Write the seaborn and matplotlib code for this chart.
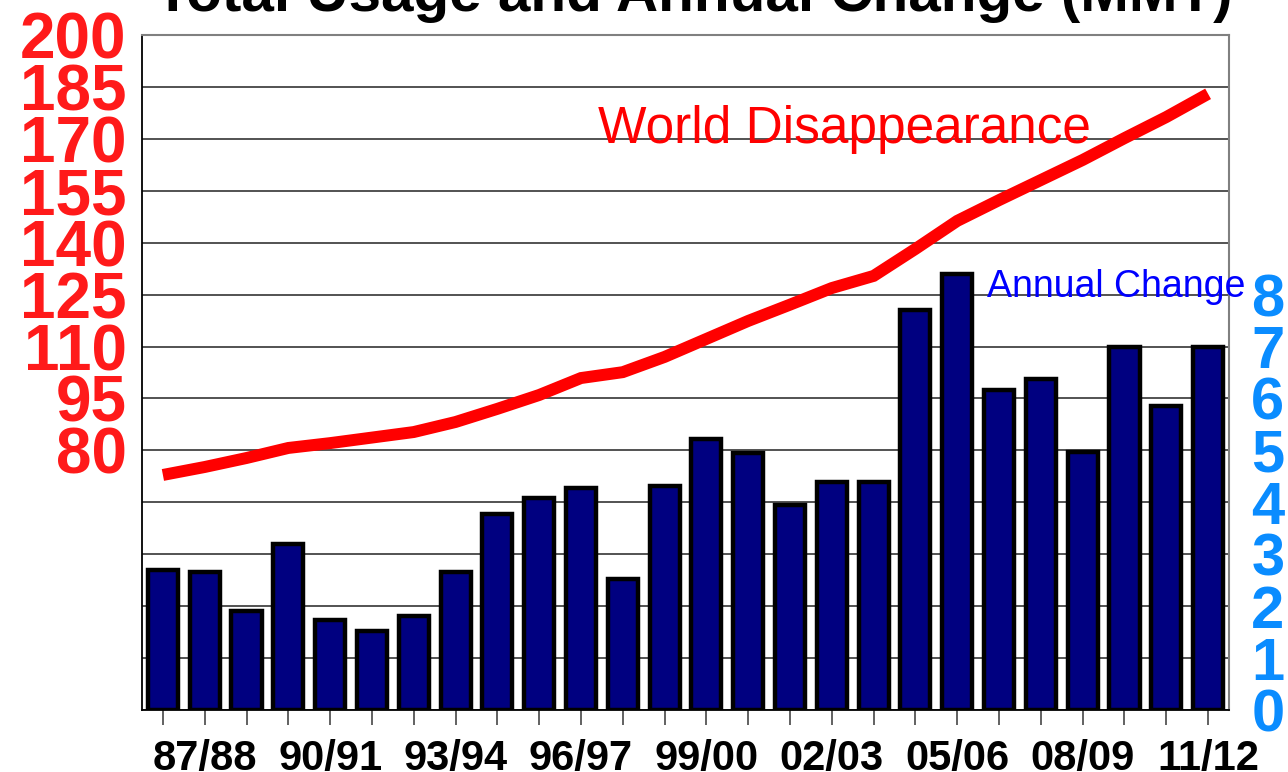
import numpy as np
import matplotlib
matplotlib.use("Agg")
import matplotlib.pyplot as plt
import seaborn as sns

# Marketing years
seasons = ["86/87", "87/88", "88/89", "89/90", "90/91", "91/92", "92/93",
           "93/94", "94/95", "95/96", "96/97", "97/98", "98/99", "99/00",
           "00/01", "01/02", "02/03", "03/04", "04/05", "05/06", "06/07",
           "07/08", "08/09", "09/10", "10/11", "11/12"]

# World disappearance (MMT, left axis)
disappearance = [72.9, 75.2, 77.8, 80.7, 82.1, 83.7, 85.3, 88.2, 92.0, 96.0,
                 100.9, 102.6, 107.0, 112.2, 117.4, 122.1, 126.9, 130.4,
                 138.2, 146.3, 152.3, 158.1, 163.9, 170.2, 176.3, 183.0]

# Annual change (MMT, right axis)
annual_change = [2.69, 2.66, 1.91, 3.20, 1.74, 1.52, 1.82, 2.66, 3.78, 4.09,
                 4.28, 2.52, 4.32, 5.21, 4.94, 3.95, 4.40, 4.40, 7.70, 8.40,
                 6.17, 6.37, 4.96, 7.00, 5.86, 7.00]

left_ticks = list(range(5, 201, 15))
left_labels = [str(v) if v >= 80 else "" for v in left_ticks]
right_ticks = list(range(0, 14))
right_labels = [str(v) if v <= 8 else "" for v in right_ticks]

sns.set_theme(style="white")
plt.rcParams["font.family"] = ["Liberation Sans", "DejaVu Sans"]

W, H = 1288, 772
fig = plt.figure(figsize=(W / 100, H / 100), dpi=100)
ax = fig.add_axes([142 / W, (H - 710) / H, 1087 / W, 675 / H])

# Bars: annual change, with the grid behind them
sns.barplot(x=seasons, y=annual_change, ax=ax, color="#000080", saturation=1,
            width=0.72, edgecolor="black", linewidth=3.2, zorder=2)
for bar in ax.patches:
    bar.set_linewidth(3.2)
    bar.set_edgecolor("black")
ax.set_axisbelow(True)
ax.set_ylim(0, 13)
ax.set_xlim(-0.5, len(seasons) - 0.5)
ax.yaxis.grid(True, color="#444444", linewidth=1.3)
ax.xaxis.grid(False)

ax.set_xticks(range(len(seasons)))
ax.set_xticklabels([s if i % 3 == 1 else "" for i, s in enumerate(seasons)],
                   fontsize=30, fontweight="bold", color="black")
ax.tick_params(axis="x", bottom=True, length=11, width=1.3, color="#555555",
               direction="out", pad=10)
ax.set_xlabel("")
ax.set_ylabel("")

for side in ["left", "bottom"]:
    ax.spines[side].set_color("black")
    ax.spines[side].set_linewidth(1.3)
for side in ["top", "right"]:
    ax.spines[side].set_color("#808080")
    ax.spines[side].set_linewidth(1.5)

# Line: world disappearance on the left scale
ax2 = ax.twinx()
sns.lineplot(x=np.arange(len(seasons)), y=disappearance, ax=ax2, color="#FF0000",
             linewidth=8.6, solid_capstyle="butt", solid_joinstyle="miter")
ax2.set_ylim(5, 200)
ax2.set_xlim(-0.5, len(seasons) - 0.5)
ax2.set_ylabel("")
ax2.grid(False)
for side in ax2.spines:
    ax2.spines[side].set_visible(False)

# Right scale labels belong to the bars, left scale labels to the line
ax.yaxis.tick_right()
ax.yaxis.set_label_position("right")
ax.set_yticks(right_ticks)
ax.set_yticklabels(right_labels, fontsize=43, fontweight="bold", color="#0A8CFF")
ax.tick_params(axis="y", which="both", left=False, right=True, labelleft=False,
               labelright=True, length=0, pad=16)

ax2.yaxis.tick_left()
ax2.yaxis.set_label_position("left")
ax2.set_yticks(left_ticks)
ax2.set_yticklabels(left_labels, fontsize=46, fontweight="bold", color="#FF1A1A")
ax2.tick_params(axis="y", which="both", left=True, right=False, labelleft=True,
                labelright=False, length=0, pad=11)

# Series captions and title
fig.text(598 / W, 1 - 143 / H, "World Disappearance", color="#FF0000",
         fontsize=37, ha="left", va="baseline")
fig.text(987 / W, 1 - 297 / H, "Annual Change", color="#0000FF",
         fontsize=27, ha="left", va="baseline")
fig.text(694 / W, 1 - 11 / H, "Total Usage and Annual Change (MMT)",
         color="black", fontsize=42, fontweight="bold", ha="center", va="baseline")

fig.savefig("out.png", dpi=100, facecolor="white")
